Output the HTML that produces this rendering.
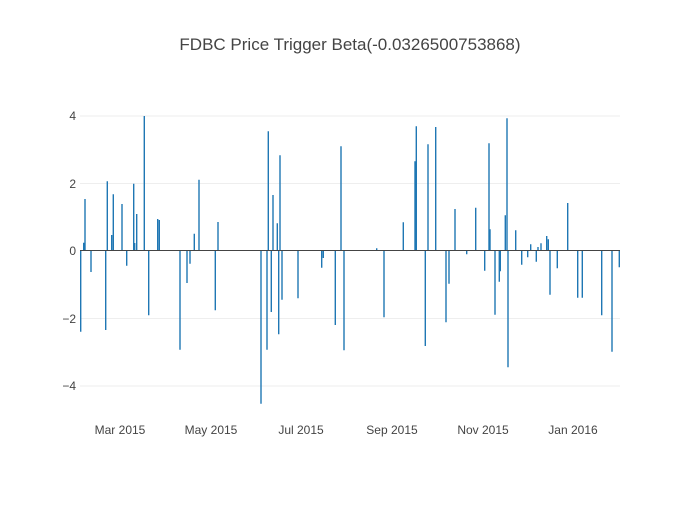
<!DOCTYPE html>
<html><head><meta charset="utf-8"><style>
body{margin:0;background:#fff}
svg text{font-family:"Liberation Sans",sans-serif;fill:#444}
</style></head><body>
<svg width="700" height="500" xmlns="http://www.w3.org/2000/svg">
<rect width="700" height="500" fill="#fff"/>
<text x="350" y="50" font-size="17" text-anchor="middle">FDBC Price Trigger Beta(-0.0326500753868)</text>
<g stroke="#eee" stroke-width="1">
<line x1="80" x2="620" y1="116" y2="116"/>
<line x1="80" x2="620" y1="183.5" y2="183.5"/>
<line x1="80" x2="620" y1="318.5" y2="318.5"/>
<line x1="80" x2="620" y1="386" y2="386"/>
</g>
<g font-size="12" text-anchor="end">
<text x="76" y="120">4</text>
<text x="76" y="188">2</text>
<text x="76" y="255">0</text>
<text x="76" y="323">−2</text>
<text x="76" y="390">−4</text>
</g>
<g font-size="12" text-anchor="middle">
<text x="120" y="434">Mar 2015</text>
<text x="211" y="434">May 2015</text>
<text x="301" y="434">Jul 2015</text>
<text x="392" y="434">Sep 2015</text>
<text x="483" y="434">Nov 2015</text>
<text x="573" y="434">Jan 2016</text>
</g>
<path fill="none" stroke="#1f77b4" stroke-width="1.4" d="
M80.7 250.5V331.7 M83.7 250.5V242.7 M85 250.5V199 M91 250.5V272 M105.7 250.5V330 M107.3 250.5V181.3 M111.7 250.5V235 M113.3 250.5V194.3 M122 250.5V204 M126.7 250.5V265.7 M133.7 250.5V183.7 M134.7 250.5V243 M136.7 250.5V214 M144.3 250.5V116 M148.7 250.5V315.3 M157.7 250.5V219 M159.3 250.5V220 M180 250.5V349.7 M187 250.5V283 M190 250.5V263.7 M194.3 250.5V233.7 M199 250.5V179.7 M215.3 250.5V310.3 M218 250.5V222 M261 250.5V403.7 M267 250.5V349.7 M268.3 250.5V131.3 M271.3 250.5V312 M273 250.5V195 M277.3 250.5V223.3 M278.7 250.5V334.3 M280 250.5V155.3 M282 250.5V299.7 M298 250.5V298.3 M321.7 250.5V267.7 M323.3 250.5V258 M335.3 250.5V325 M341 250.5V146.3 M344 250.5V350.3
M376.7 250.5V248.3 M384 250.5V317.3 M403.3 250.5V222.3 M415 250.5V161.3 M416.3 250.5V126.3 M425.3 250.5V346 M428 250.5V144.3 M435.7 250.5V127 M446 250.5V322.3 M449 250.5V283.7 M455 250.5V209 M466.7 250.5V254.3 M475.7 250.5V207.7 M484.7 250.5V270.7 M489 250.5V143.3 M490 250.5V229.3 M495 250.5V314.7 M499.3 250.5V281.7 M500.3 250.5V271.3 M505.3 250.5V215.3 M507 250.5V118.3 M508 250.5V367.3 M515.7 250.5V230.3 M521.7 250.5V264.7 M527.7 250.5V257.3 M530.7 250.5V244.3 M536.3 250.5V261.7 M538 250.5V247 M541 250.5V243.3 M546.7 250.5V236 M548.3 250.5V239.3 M550 250.5V294.7 M557.3 250.5V268.3 M567.7 250.5V203 M577.7 250.5V297.7 M582.3 250.5V297.7 M601.7 250.5V315.3 M612 250.5V351.7 M619.3 250.5V267.3"/>
<line x1="80" x2="620" y1="250.5" y2="250.5" stroke="#444" stroke-width="1"/>
</svg>
</body></html>
